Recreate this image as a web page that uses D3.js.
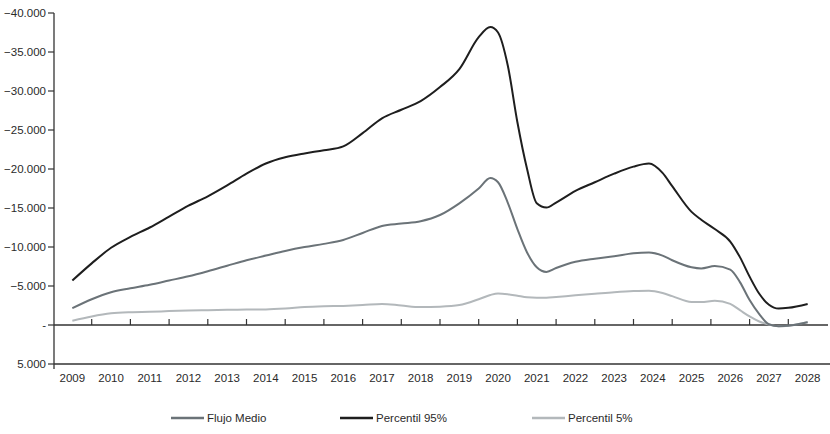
<!DOCTYPE html>
<html><head><meta charset="utf-8">
<script src="https://cdn.jsdelivr.net/npm/d3@7"></script>
<style>body{margin:0;background:#fff}svg{display:block}text{font-family:"Liberation Sans",Arial,sans-serif;fill:#2a2a2a}</style>
</head><body><svg id="c" width="830" height="434"></svg>
<script>
const years = d3.range(2009, 2029);
const yTicks = [-40000,-35000,-30000,-25000,-20000,-15000,-10000,-5000,0,5000];
const t = [2009,2009.5,2010,2010.5,2011,2011.5,2012,2012.5,2013,2013.5,2014,2014.5,2015,2015.5,2016,2016.5,2017,2017.5,2018,2018.5,2019,
  2019.5,2019.8,2020,2020.25,2020.5,2020.75,2021,2021.25,2021.5,2022,2022.5,2023,2023.5,2023.9,2024.25,2024.5,2025,2025.25,2025.6,2026,2026.25,2026.5,2026.75,2027,2027.25,2027.5,2028];
const p95 = [-5700,-7900,-9900,-11300,-12500,-13900,-15300,-16500,-17900,-19400,-20700,-21500,-22000,-22400,-22900,-24600,-26500,-27600,-28700,-30500,-32800,
  -36900,-38200,-37500,-33300,-26000,-20000,-15600,-15050,-15700,-17200,-18300,-19400,-20300,-20700,-19500,-17800,-14500,-13500,-12300,-10700,-8700,-6200,-4000,-2600,-2100,-2200,-2700];
const medio = [-2150,-3300,-4200,-4700,-5150,-5700,-6250,-6900,-7600,-8300,-8900,-9500,-10000,-10400,-10900,-11800,-12700,-13000,-13300,-14100,-15600,
  -17500,-18850,-18300,-15700,-12300,-9300,-7400,-6800,-7300,-8100,-8500,-8800,-9200,-9300,-8900,-8300,-7400,-7250,-7550,-7100,-5500,-3200,-1400,-100,150,100,-350];
const p5 = [-550,-1100,-1500,-1650,-1700,-1780,-1850,-1900,-1950,-2000,-2000,-2100,-2300,-2400,-2450,-2550,-2700,-2500,-2300,-2350,-2550,
  -3300,-3850,-4050,-3950,-3750,-3550,-3500,-3500,-3600,-3800,-4000,-4200,-4350,-4400,-4100,-3700,-2950,-2950,-3100,-2700,-1900,-1100,-450,-50,170,100,-400];
const seriesNames = ["Flujo Medio","Percentil 95%","Percentil 5%"];
const seriesColors = ["#6b7378","#1e1e1e","#b3b8bb"];
const seriesData = [medio, p95, p5];

const svg = d3.select("#c");
const x = d3.scaleLinear().domain([2008.5, 2028.5]).range([53, 827]);
const y = d3.scaleLinear().domain([-40000, 5000]).range([13, 364]);
const fmt = v => v === 0 ? "-" : d3.format(",")(v).replace(/,/g, ".");

// y axis
svg.append("line").attr("x1",54).attr("x2",54).attr("y1",y(-40000)).attr("y2",369).attr("stroke","#333").attr("stroke-width",1.3);
yTicks.forEach(v=>{
  svg.append("line").attr("x1",48).attr("x2",54).attr("y1",y(v)).attr("y2",y(v)).attr("stroke","#333").attr("stroke-width",1.2);
  svg.append("text").attr("x",46).attr("y",y(v)+4).attr("text-anchor","end").attr("font-size",11.5).text(fmt(v));
});
// zero line and bottom line
svg.append("line").attr("x1",54).attr("x2",828).attr("y1",y(0)).attr("y2",y(0)).attr("stroke","#333").attr("stroke-width",1.3);
svg.append("line").attr("x1",54).attr("x2",830).attr("y1",y(5000)).attr("y2",y(5000)).attr("stroke","#333").attr("stroke-width",1.3);
years.slice(0,-1).forEach(yr=>{
  svg.append("line").attr("x1",x(yr+0.5)).attr("x2",x(yr+0.5)).attr("y1",y(0)).attr("y2",y(0)-6).attr("stroke","#333").attr("stroke-width",1.2);
});
years.forEach(yr=>{
  svg.append("text").attr("x",x(yr)).attr("y",382).attr("text-anchor","middle").attr("font-size",11.5).text(yr);
});

const line = d3.line().x((d,i)=>x(t[i])).y(d=>y(d)).curve(d3.curveMonotoneX);
[2,0,1].forEach(k=>{
  svg.append("path").attr("d",line(seriesData[k])).attr("fill","none").attr("stroke",seriesColors[k]).attr("stroke-width",2);
});

// legend
const legX = [171, 340, 532];
seriesNames.forEach((n,i)=>{
  svg.append("line").attr("x1",legX[i]).attr("x2",legX[i]+33).attr("y1",418).attr("y2",418).attr("stroke",seriesColors[i]).attr("stroke-width",2.5);
  svg.append("text").attr("x",legX[i]+36).attr("y",422).attr("font-size",11.5).text(n);
});
</script></body></html>
